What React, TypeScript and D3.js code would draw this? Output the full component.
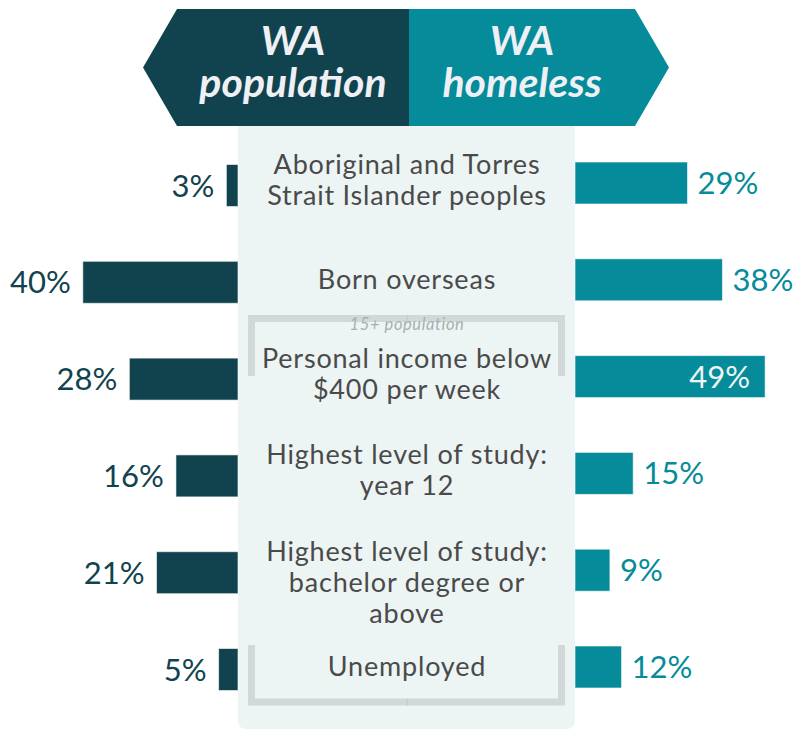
import React from "react";
import * as d3 from "d3";

const categories: string[] = [
  "Aboriginal and Torres\nStrait Islander peoples",
  "Born overseas",
  "Personal income below\n$400 per week",
  "Highest level of study:\nyear 12",
  "Highest level of study:\nbachelor degree or\nabove",
  "Unemployed",
];
const waPopulation: number[] = [3, 40, 28, 16, 21, 5];
const waHomeless: number[] = [29, 38, 49, 15, 9, 12];
const headerLeft: string[] = ["WA", "population"];
const headerRight: string[] = ["WA", "homeless"];
const bracketLabel = "15+ population";

const W = 806;
const H = 730;
const DARK = "#11434e";
const TEAL = "#058b99";
const PANEL = "#ecf4f4";
const BRACKET = "#d2d8d8";
const TEXT = "#4a4a4a";
const HEAD_TEXT = "#eef0f5";
const FONT = "Lato, 'Open Sans', sans-serif";

export default function App() {
  const panelL = 238;
  const panelR = 575;
  const mid = (panelL + panelR) / 2 + 0.5;

  const xs = d3.scaleLinear().domain([0, 50]).range([0, 194]);
  const ys = d3.scalePoint<string>().domain(categories).range([183, 667]);
  const barH = 42;

  const headTop = 9;
  const headBot = 126;
  const headMidY = (headTop + headBot) / 2;
  const split = 409;
  const leftRectL = 177;
  const rightRectR = 635;
  const leftPoly = [
    [leftRectL, headTop],
    [split, headTop],
    [split, headBot],
    [leftRectL, headBot],
    [143, headMidY],
  ];
  const rightPoly = [
    [split, headTop],
    [rightRectR, headTop],
    [669, headMidY],
    [rightRectR, headBot],
    [split, headBot],
  ];
  const line = d3.line();

  const panelPath = (() => {
    const r = 9;
    const t = headBot - 2;
    const b = 729;
    return `M${panelL},${t} H${panelR} V${b - r} Q${panelR},${b} ${panelR - r},${b} H${panelL + r} Q${panelL},${b} ${panelL},${b - r} Z`;
  })();

  const bx1 = 251.5;
  const bx2 = 561.5;
  const lh = 31;

  const header = (lines: string[], cx: number, key: string) => (
    <text
      key={key}
      x={cx}
      y={55}
      textAnchor="middle"
      fontWeight="bold"
      fontStyle="italic"
      fontSize={41}
      fill={HEAD_TEXT}
    >
      {lines.map((t, i) => (
        <tspan key={i} x={cx} dy={i === 0 ? 0 : 42}>
          {t}
        </tspan>
      ))}
    </text>
  );

  return (
    <svg
      width={W}
      height={H}
      style={{ position: "absolute", left: 0, top: 0, display: "block", background: "#fff" }}
      fontFamily={FONT}
    >
      {/* center panel */}
      <path d={panelPath} fill={PANEL} />

      {/* brackets */}
      <path
        d={`M${bx1},${376} V${318.5} H${bx2} V${376}`}
        fill="none"
        stroke={BRACKET}
        strokeWidth={7}
      />
      <line x1={mid} x2={mid} y1={315} y2={322} stroke="#bfc6c6" strokeWidth={1} />
      <path
        d={`M${bx1},${645} V${702} H${bx2} V${645}`}
        fill="none"
        stroke={BRACKET}
        strokeWidth={7}
      />
      <line x1={mid} x2={mid} y1={698.5} y2={705.5} stroke="#bfc6c6" strokeWidth={1} />
      <text
        x={mid}
        y={330}
        textAnchor="middle"
        fontStyle="italic"
        fontSize={16.5}
        letterSpacing={0.6}
        fill="#a8b0b0"
      >
        {bracketLabel}
      </text>

      {/* header */}
      <path d={line(leftPoly as [number, number][]) + "Z"} fill={DARK} />
      <path d={line(rightPoly as [number, number][]) + "Z"} fill={TEAL} />
      {header(headerLeft, (leftRectL + split) / 2, "hl")}
      {header(headerRight, (split + rightRectR) / 2, "hr")}

      {/* rows */}
      {categories.map((c, i) => {
        const cy = ys(c) as number;
        const lines = c.split("\n");
        const firstBase = lines.length === 1 ? cy + 9 : cy - 9;
        const lv = waPopulation[i];
        const rv = waHomeless[i];
        const lw = xs(lv);
        const rw = xs(rv);
        const inside = rw > 170;
        return (
          <g key={c}>
            <rect
              x={panelL - lw}
              y={cy - barH / 2 + 2.5}
              width={lw}
              height={barH}
              fill={DARK}
              stroke="#ffffff"
              strokeOpacity={0.6}
              strokeWidth={1}
            />
            <text
              x={panelL - lw - 12}
              y={cy + 2.5 + 11}
              textAnchor="end"
              fontSize={31}
              fill={DARK}
            >
              {lv}%
            </text>
            <rect
              x={panelR}
              y={cy - barH / 2}
              width={rw}
              height={barH}
              fill={TEAL}
              stroke="#ffffff"
              strokeOpacity={0.6}
              strokeWidth={1}
            />
            <text
              x={inside ? panelR + rw - 15 : panelR + rw + 10}
              y={cy + 11}
              textAnchor={inside ? "end" : "start"}
              fontSize={31}
              fill={inside ? "#eef5f5" : TEAL}
            >
              {rv}%
            </text>
            <text
              x={mid}
              y={firstBase}
              textAnchor="middle"
              fontSize={27}
              letterSpacing={0.8}
              fill={TEXT}
            >
              {lines.map((t, j) => (
                <tspan key={j} x={mid} dy={j === 0 ? 0 : lh}>
                  {t}
                </tspan>
              ))}
            </text>
          </g>
        );
      })}
    </svg>
  );
}
